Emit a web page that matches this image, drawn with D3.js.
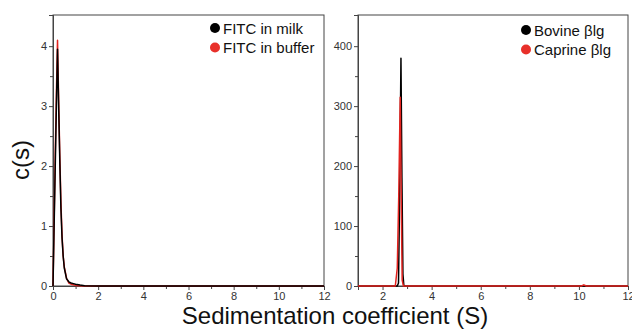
<!DOCTYPE html>
<html>
<head>
<meta charset="utf-8">
<script src="https://cdn.jsdelivr.net/npm/d3@7"></script>
<style>
body { margin: 0; background: #fff; }
text { font-family: "Liberation Sans", Arial, sans-serif; }
</style>
</head>
<body>
<script>
var width = 632;
var height = 329;

// left panel: FITC
var fitcS      = [0, 0.05, 0.1, 0.15, 0.2, 0.25, 0.3, 0.35, 0.4, 0.45, 0.5, 0.6, 0.7, 0.8, 0.9, 1.0, 1.2, 1.4, 2, 4, 6, 8, 10, 12];
var fitcMilk   = [0, 1.0, 2.0, 3.0, 3.95, 3.0, 2.1, 1.3, 0.8, 0.5, 0.3, 0.12, 0.07, 0.05, 0.04, 0.03, 0.015, 0.005, 0, 0, 0, 0, 0, 0];
var fitcBuffer = [0, 1.1, 2.2, 3.2, 4.1, 3.1, 2.2, 1.4, 0.85, 0.5, 0.32, 0.13, 0.05, 0.03, 0.02, 0.01, 0.005, 0, 0, 0, 0, 0, 0, 0];

// right panel: beta-lactoglobulin
var bovineS   = [1, 2, 2.6, 2.65, 2.7, 2.75, 2.79, 2.83, 2.87, 3, 6, 10, 12];
var bovine    = [0, 0, 0, 5, 160, 380, 180, 20, 0, 0, 0, 0, 0];
var caprineS  = [1, 2, 2.52, 2.6, 2.66, 2.72, 2.76, 2.8, 2.85, 3, 6, 10.1, 10.2, 10.3, 12];
var caprine   = [0, 0, 0, 30, 150, 315, 150, 10, 0, 0, 0, 0, 2, 0, 0];

var xTicksLeft = [0, 2, 4, 6, 8, 10, 12];
var yTicksLeft = [0, 1, 2, 3, 4];
var xTicksRight = [2, 4, 6, 8, 10, 12];
var yTicksRight = [0, 100, 200, 300, 400];

var svg = d3.select("body")
  .append("svg")
  .attr("width", width)
  .attr("height", height);

var plotTop = 15, plotBottom = 286;

function panel(opts) {
  var x = d3.scaleLinear().domain(opts.xDomain).range([opts.left, opts.right]);
  var y = d3.scaleLinear().domain(opts.yDomain).range([plotBottom, plotTop]);
  var g = svg.append("g");

  // frame
  g.append("rect")
    .attr("x", opts.left).attr("y", plotTop)
    .attr("width", opts.right - opts.left).attr("height", plotBottom - plotTop)
    .attr("fill", "none").attr("stroke", "#444").attr("stroke-width", 1);

  // minor ticks
  var xMinor = g.append("g").attr("transform", "translate(0," + plotBottom + ")")
    .call(d3.axisBottom(x).tickValues(opts.xMinor).tickSize(3).tickFormat(""));
  var yMinor = g.append("g").attr("transform", "translate(" + opts.left + ",0)")
    .call(d3.axisLeft(y).tickValues(opts.yMinor).tickSize(3).tickFormat(""));

  var xAxis = g.append("g").attr("transform", "translate(0," + plotBottom + ")")
    .call(d3.axisBottom(x).tickValues(opts.xTicks).tickSize(4).tickPadding(2).tickFormat(d3.format("d")));
  var yAxis = g.append("g").attr("transform", "translate(" + opts.left + ",0)")
    .call(d3.axisLeft(y).tickValues(opts.yTicks).tickSize(4).tickPadding(2).tickFormat(d3.format("d")));

  [xMinor, yMinor, xAxis, yAxis].forEach(function(a) {
    a.select(".domain").attr("stroke", "#444");
    a.selectAll(".tick line").attr("stroke", "#444");
    a.selectAll("text").attr("fill", "#333").style("font-size", "11px");
  });

  var line = d3.line()
    .x(function(d) { return x(d[0]); })
    .y(function(d) { return y(d[1]); });

  opts.series.forEach(function(s) {
    g.append("path")
      .datum(d3.zip(s.xs, s.ys))
      .attr("d", line)
      .attr("fill", "none")
      .attr("stroke", s.color)
      .attr("stroke-width", 1.5)
      .attr("stroke-linejoin", "round");
  });

  // legend
  opts.legend.forEach(function(s, i) {
    var ly = opts.legendY + i * 19.5;
    g.append("circle").attr("cx", opts.legendX).attr("cy", ly).attr("r", 5).attr("fill", s.color);
    g.append("text").attr("x", opts.legendX + 8).attr("y", ly + 5.5)
      .style("font-size", "15px").attr("fill", "#111").text(s.name);
  });
}

panel({
  left: 53, right: 324,
  xDomain: [0, 12], yDomain: [0, 4.52],
  xTicks: xTicksLeft, yTicks: yTicksLeft,
  xMinor: [1, 3, 5, 7, 9, 11], yMinor: [0.5, 1.5, 2.5, 3.5],
  legendX: 215, legendY: 28,
  series: [
    {xs: fitcS, ys: fitcBuffer, color: "#e3231f"},
    {xs: fitcS, ys: fitcMilk, color: "#000"}
  ],
  legend: [
    {name: "FITC in milk", color: "#000"},
    {name: "FITC in buffer", color: "#e8302a"}
  ]
});

panel({
  left: 358, right: 628,
  xDomain: [1, 12], yDomain: [0, 452],
  xTicks: xTicksRight, yTicks: yTicksRight,
  xMinor: [3, 5, 7, 9, 11], yMinor: [50, 150, 250, 350],
  legendX: 526, legendY: 30,
  series: [
    {xs: bovineS, ys: bovine, color: "#000"},
    {xs: caprineS, ys: caprine, color: "#e3231f"}
  ],
  legend: [
    {name: "Bovine βlg", color: "#000"},
    {name: "Caprine βlg", color: "#e8302a"}
  ]
});

svg.append("text")
  .attr("transform", "translate(29,160) rotate(-90)")
  .attr("text-anchor", "middle")
  .style("font-size", "24px")
  .attr("fill", "#111")
  .text("c(s)");

svg.append("text")
  .attr("x", 335).attr("y", 324)
  .attr("text-anchor", "middle")
  .style("font-size", "24px")
  .attr("fill", "#111")
  .text("Sedimentation coefficient (S)");
</script>
</body>
</html>
